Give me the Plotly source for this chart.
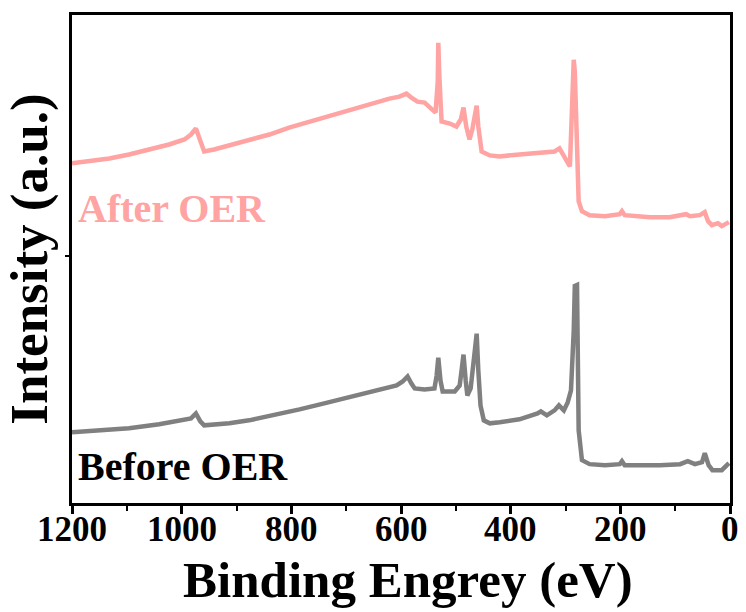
import plotly.graph_objects as go

# Binding energy (eV) and intensity (a.u.)
after_be = [1200, 1169, 1132, 1096, 1059, 1023, 995, 983, 974, 966, 959, 941, 913, 877, 840, 804,
            767, 731, 703, 676, 648, 621, 603, 590, 581, 570, 557, 544, 537, 533, 532, 530, 526,
            511, 499, 491, 486, 481, 475, 470, 464, 462, 459, 453, 438, 420, 384, 347, 320, 311,
            302, 292, 289, 285, 283, 281, 279, 276, 270, 256, 228, 201, 197, 192, 146, 110, 80,
            73, 55, 46, 40, 33, 22, 15, 2]
after_int = [341, 343, 346, 350, 355, 360, 365, 370, 376, 363, 353, 355, 359, 364, 370, 377,
             383, 389, 393, 398, 402, 406, 408, 411, 407, 403, 402, 395, 392, 423, 462, 428, 383,
             381, 378, 385, 397, 378, 365, 375, 395, 399, 378, 353, 349, 348, 350, 352, 353, 356,
             347, 338, 383, 445, 433, 398, 353, 303, 293, 289, 288, 290, 293, 289, 287, 287, 290,
             288, 289, 292, 283, 279, 281, 278, 282]

before_be = [1200, 1151, 1096, 1041, 995, 983, 974, 966, 959, 913, 877, 831, 785, 740, 694, 648,
             608, 597, 588, 581, 575, 557, 539, 535, 532, 528, 524, 502, 493, 490, 486, 482, 479,
             473, 468, 462, 459, 455, 449, 438, 420, 384, 351, 345, 334, 320, 312, 303, 296, 290,
             285, 283, 279, 278, 276, 270, 256, 228, 201, 197, 192, 128, 91, 77, 64, 51, 46, 39,
             32, 15, 2]
before_int = [71, 73, 75, 79, 83, 85, 90, 82, 78, 80, 83, 88, 94, 100, 106, 112,
              118, 122, 127, 120, 115, 114, 115, 128, 146, 123, 112, 112, 118, 131, 149, 123, 108,
              115, 143, 170, 133, 98, 83, 80, 81, 84, 90, 92, 88, 93, 98, 93, 101, 113,
              173, 218, 219, 153, 73, 43, 39, 38, 39, 42, 38, 38, 39, 42, 39, 41, 50, 38,
              33, 33, 40]

x_ticks = [1200, 1000, 800, 600, 400, 200, 0]
y_ticks = [248]

FONT = "Liberation Serif"

fig = go.Figure()
fig.add_trace(go.Scatter(x=after_be, y=after_int, mode="lines",
                         line=dict(color="#FFA3A3", width=4.5), showlegend=False))
fig.add_trace(go.Scatter(x=before_be, y=before_int, mode="lines",
                         line=dict(color="#808080", width=4.5), showlegend=False))

fig.add_annotation(x=1192, y=296, xref="x", yref="y", text="<b>After OER</b>",
                   showarrow=False, xanchor="left", yanchor="middle",
                   font=dict(family=FONT, size=40, color="#FFA3A3"))
fig.add_annotation(x=1193, y=37, xref="x", yref="y", text="<b>Before OER</b>",
                   showarrow=False, xanchor="left", yanchor="middle",
                   font=dict(family=FONT, size=40, color="#000000"))

# tick labels placed on the x scale, just under the axis
for v in x_ticks:
    fig.add_annotation(x=v, y=-0.055, xref="x", yref="paper", text=f"<b>{v}</b>",
                       showarrow=False, xanchor="center", yanchor="middle",
                       font=dict(family=FONT, size=35, color="black"))

# x axis title
fig.add_annotation(x=0.511, y=-0.157, xref="paper", yref="paper",
                   text="<b>Binding Engrey (eV)</b>", showarrow=False,
                   xanchor="center", yanchor="middle",
                   font=dict(family=FONT, size=51, color="black"))

fig.update_layout(
    width=746, height=612,
    margin=dict(l=72, r=16, t=13, b=109),
    paper_bgcolor="white", plot_bgcolor="white",
    font=dict(family=FONT, color="black"),
)
fig.update_xaxes(
    range=[1200, 0], tickvals=x_ticks, showticklabels=False,
    ticks="outside", ticklen=8, tickwidth=2.5, tickcolor="black",
    minor=dict(dtick=100, tick0=0, ticks="outside", ticklen=5, tickwidth=2, tickcolor="black"),
    showline=True, linewidth=3, linecolor="black", mirror=True,
    showgrid=False, zeroline=False,
)
fig.update_yaxes(
    range=[0, 490], tickvals=y_ticks, showticklabels=False,
    ticks="outside", ticklen=4, tickwidth=1.5, tickcolor="black",
    showline=True, linewidth=3, linecolor="black", mirror=True,
    showgrid=False, zeroline=False,
    title=dict(text="<b>Intensity (a.u.)</b>", font=dict(family=FONT, size=53, color="black"),
               standoff=2),
)

fig.write_html("out.html")
